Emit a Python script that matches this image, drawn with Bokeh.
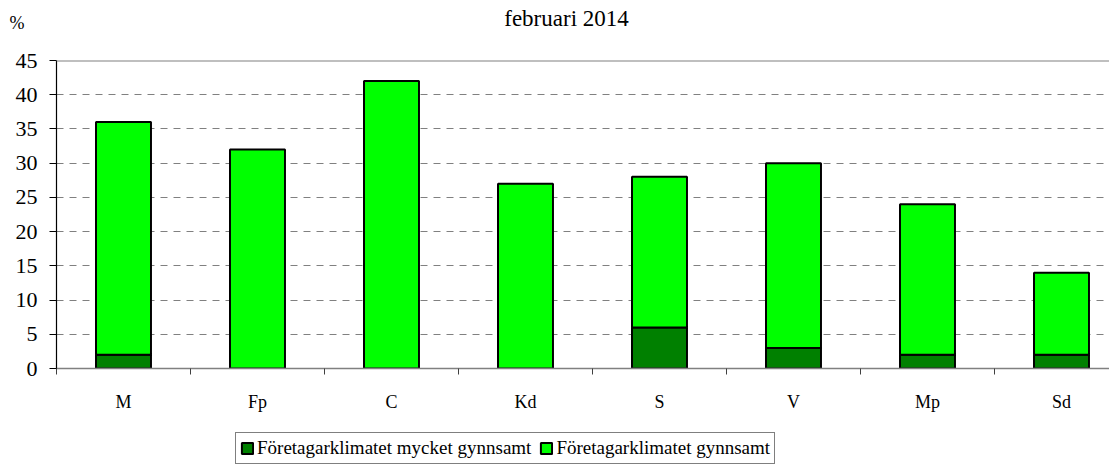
from bokeh.plotting import figure
from bokeh.layouts import column
from bokeh.models import (ColumnDataSource, Range1d, FixedTicker, Span, Label,
                          Legend, LegendItem)
from bokeh.embed import file_html
from bokeh.resources import INLINE

categories = ["M", "Fp", "C", "Kd", "S", "V", "Mp", "Sd"]
mycket_gynnsamt = [2, 0, 0, 0, 6, 3, 2, 2]
totalt_gynnsamt = [36, 32, 42, 27, 28, 30, 24, 14]
gynnsamt = [t - m for t, m in zip(totalt_gynnsamt, mycket_gynnsamt)]
y_ticks = [0, 5, 10, 15, 20, 25, 30, 35, 40, 45]
series_names = ["Företagarklimatet mycket gynnsamt", "Företagarklimatet gynnsamt"]
series_colors = ["#008000", "#00FF00"]
title_text = "februari 2014"
unit_text = "%"

FONT = "Liberation Serif"
W = 1109
LEFT = 56
positions = [i + 0.5 for i in range(len(categories))]

src = ColumnDataSource(dict(x=positions, cat=categories,
                            mycket=mycket_gynnsamt, gynn=gynnsamt))

def blank(fig):
    fig.outline_line_color = None
    fig.background_fill_color = "white"
    fig.border_fill_color = "white"
    fig.xgrid.grid_line_color = None
    fig.ygrid.grid_line_color = None

# ---- header: title and unit
HH = 35
head = figure(width=W, height=HH, output_backend="svg", toolbar_location=None,
              x_range=Range1d(LEFT, W), y_range=Range1d(HH, 0),
              x_axis_location=None, y_axis_location="left",
              min_border_left=LEFT, min_border_right=0,
              min_border_top=0, min_border_bottom=0)
blank(head)
head.add_layout(Label(x=566, y=18, text=title_text, text_font=FONT,
                      text_font_size="23px", text_align="center",
                      text_baseline="alphabetic", text_color="black"))
head.yaxis.ticker = FixedTicker(ticks=[22])
head.yaxis.major_label_overrides = {22: unit_text}
head.yaxis.axis_line_color = None
head.yaxis.major_tick_line_color = None
head.yaxis.minor_tick_line_color = None
head.yaxis.major_tick_in = 0
head.yaxis.major_tick_out = 0
head.yaxis.major_label_standoff = 32
head.yaxis.major_label_text_font = FONT
head.yaxis.major_label_text_font_size = "18px"
head.yaxis.major_label_text_color = "black"

# ---- main chart
HM = 390
p = figure(width=W, height=HM, output_backend="svg", toolbar_location=None,
           x_range=Range1d(0, (W - LEFT) / 134), y_range=Range1d(0, 45),
           min_border_left=LEFT, min_border_right=0, min_border_top=25,
           min_border_bottom=HM - (368 - HH))
blank(p)

renderers = p.vbar_stack(["mycket", "gynn"], x="x", width=0.41, source=src,
                         fill_color=series_colors, line_color="black", line_width=2)

p.xaxis.ticker = FixedTicker(ticks=positions, minor_ticks=list(range(len(categories) + 1)))
p.xaxis.major_label_overrides = {pos: c for pos, c in zip(positions, categories)}
p.xaxis.major_tick_in = 0
p.xaxis.major_tick_out = 0
p.xaxis.minor_tick_in = 0
p.xaxis.minor_tick_out = 6
p.xaxis.minor_tick_line_color = "#404040"
p.xaxis.axis_line_color = "#808080"
p.xaxis.axis_line_width = 1.5
p.xaxis.major_label_text_font = FONT
p.xaxis.major_label_text_font_size = "18px"
p.xaxis.major_label_text_color = "black"
p.xaxis.major_label_standoff = 17

p.yaxis.ticker = FixedTicker(ticks=y_ticks)
p.yaxis.minor_tick_line_color = None
p.yaxis.major_tick_in = 0
p.yaxis.major_tick_out = 7
p.yaxis.major_tick_line_color = "black"
p.yaxis.axis_line_color = "black"
p.yaxis.axis_line_width = 1.2
p.yaxis.major_label_text_font = FONT
p.yaxis.major_label_text_font_size = "22px"
p.yaxis.major_label_text_color = "black"
p.yaxis.major_label_standoff = 12

p.ygrid.ticker = FixedTicker(ticks=y_ticks[1:-1])
p.ygrid.grid_line_color = "#808080"
p.ygrid.grid_line_dash = "7 6"
p.ygrid.grid_line_width = 1

p.add_layout(Span(location=45, dimension="width", line_color="#808080", line_width=2))

# ---- footer: legend (its copy of the bars lies below the footer's view, behind the legend box)
HF = 464 - HH - HM
foot = figure(width=W, height=HF, output_backend="svg", toolbar_location=None,
              x_range=Range1d(-2.39, 12.6), y_range=Range1d(100, 101),
              x_axis_location=None, y_axis_location=None,
              min_border_left=LEFT, min_border_right=0,
              min_border_top=0, min_border_bottom=0)
blank(foot)
leg_r = foot.vbar_stack(["mycket", "gynn"], x="x", width=0.41, source=src,
                        fill_color=series_colors, line_color="black", line_width=2)
legend = Legend(items=[LegendItem(label=n, renderers=[r]) for n, r in zip(series_names, leg_r)],
                orientation="horizontal", location=(235 - LEFT, 0))
legend.border_line_color = "black"
legend.border_line_width = 1
legend.background_fill_color = "white"
legend.background_fill_alpha = 1
legend.label_text_font = FONT
legend.label_text_font_size = "19px"
legend.label_text_color = "black"
legend.glyph_width = 14
legend.glyph_height = 14
legend.label_standoff = 3
legend.spacing = 8
legend.padding = 4
legend.margin = 0
foot.add_layout(legend, "center")

layout = column(head, p, foot, spacing=0)
open("out.html", "w").write(file_html(layout, INLINE))
